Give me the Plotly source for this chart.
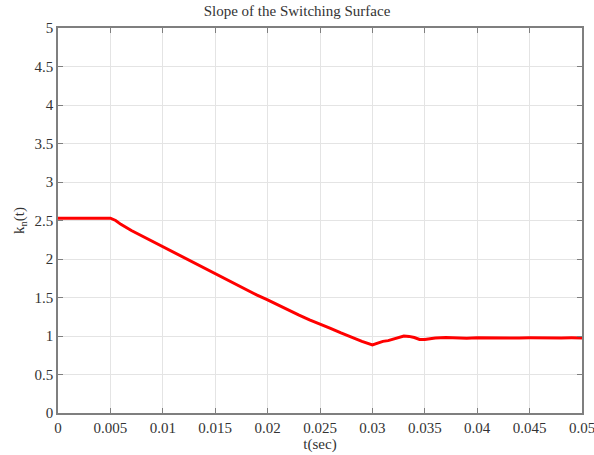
import plotly.graph_objects as go

t_sec = [0, 0.001, 0.002, 0.003, 0.004, 0.005, 0.0055, 0.006, 0.007, 0.008, 0.009,
         0.010, 0.011, 0.012, 0.013, 0.014, 0.015, 0.016, 0.017, 0.018, 0.019,
         0.020, 0.021, 0.022, 0.023, 0.024, 0.025, 0.026, 0.027, 0.028, 0.029,
         0.030, 0.0305, 0.031, 0.0315, 0.032, 0.0325, 0.033, 0.0335, 0.034, 0.0345,
         0.035, 0.0355, 0.036, 0.037, 0.038, 0.039, 0.040, 0.041, 0.042, 0.043,
         0.044, 0.045, 0.046, 0.047, 0.048, 0.049, 0.050]
kn = [2.53, 2.53, 2.53, 2.53, 2.53, 2.53, 2.50, 2.45, 2.37, 2.30, 2.22,
      2.15, 2.09, 2.01, 1.94, 1.87, 1.80, 1.73, 1.66, 1.60, 1.53,
      1.47, 1.40, 1.33, 1.27, 1.21, 1.16, 1.10, 1.04, 0.98, 0.93,
      0.885, 0.91, 0.93, 0.94, 0.96, 0.99, 1.00, 0.995, 0.98, 0.955,
      0.955, 0.965, 0.975, 0.98, 0.975, 0.972, 0.978, 0.975, 0.973, 0.977,
      0.974, 0.976, 0.973, 0.977, 0.975, 0.976, 0.975]

x_ticks = [0, 0.005, 0.01, 0.015, 0.02, 0.025, 0.03, 0.035, 0.04, 0.045, 0.05]
x_labels = ["0", "0.005", "0.01", "0.015", "0.02", "0.025", "0.03", "0.035", "0.04", "0.045", "0.05"]
y_ticks = [0, 0.5, 1, 1.5, 2, 2.5, 3, 3.5, 4, 4.5, 5]
y_labels = ["0", "0.5", "1", "1.5", "2", "2.5", "3", "3.5", "4", "4.5", "5"]

font = "Liberation Serif, Times New Roman, serif"

fig = go.Figure()
fig.add_trace(go.Scatter(x=t_sec, y=kn, mode="lines",
                         line=dict(color="#ff0000", width=3), showlegend=False))

axis_common = dict(
    showline=True, linecolor="#7f7f7f", linewidth=1.5, mirror="ticks",
    ticks="inside", ticklen=5, tickcolor="#7f7f7f",
    showgrid=True, gridcolor="#e4e4e4", gridwidth=1, zeroline=False,
    tickfont=dict(family=font, size=15, color="#333333"),
    automargin=False, ticklabeloverflow="allow",
)

fig.update_xaxes(range=[0, 0.05], tickvals=x_ticks, ticktext=x_labels,
                 title=dict(text="t(sec)", font=dict(family=font, size=15, color="#333333"), standoff=4),
                 **axis_common)
fig.update_yaxes(range=[0, 5], tickvals=y_ticks, ticktext=y_labels,
                 title=dict(text="k<sub>n</sub>(t)", font=dict(family=font, size=15, color="#333333"), standoff=6),
                 **axis_common)

fig.update_layout(
    width=594, height=455,
    margin=dict(l=58, r=12, t=28, b=42),
    paper_bgcolor="white", plot_bgcolor="white",
    title=dict(text="Slope of the Switching Surface", x=0.5, xanchor="center",
               y=1 - 11/455, yanchor="middle",
               font=dict(family=font, size=15, color="#333333")),
)

fig.write_html("out.html")
